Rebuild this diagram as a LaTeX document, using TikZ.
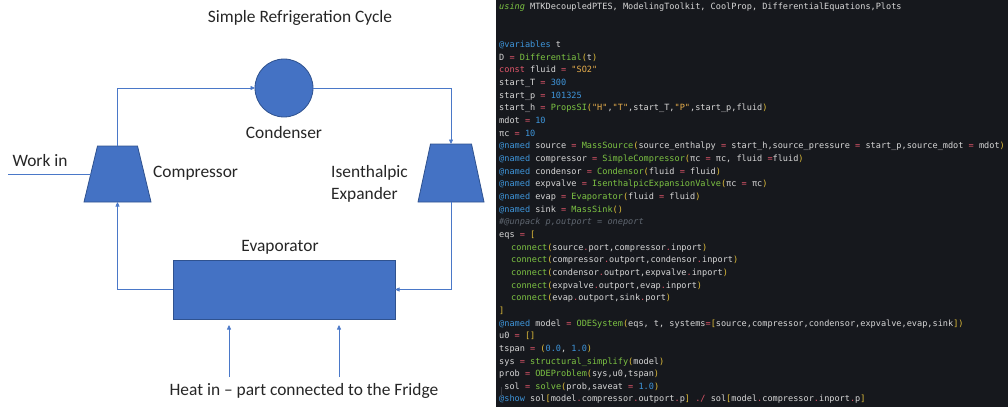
\documentclass[tikz,border=0pt]{standalone}
\usepackage{fontspec}
\setmainfont{Carlito}
\newfontfamily\codefont{DejaVu Sans Mono}
\usetikzlibrary{arrows.meta,calc}
\definecolor{boxfill}{HTML}{4472C4}
\definecolor{boxedge}{HTML}{2F528F}
\definecolor{flowline}{HTML}{4A78C8}
\definecolor{labeltext}{HTML}{262626}
\definecolor{panelbg}{HTML}{16181D}
\definecolor{cdDefC}{HTML}{D7D7D7}
\definecolor{cdMacC}{HTML}{3E95DA}
\definecolor{cdNumC}{HTML}{3E95DA}
\definecolor{cdOpC}{HTML}{E0566A}
\definecolor{cdFunC}{HTML}{7DC443}
\definecolor{cdParC}{HTML}{E2BF3A}
\definecolor{cdStrC}{HTML}{E6AD4C}
\definecolor{cdComC}{HTML}{5F6670}
\definecolor{guideC}{HTML}{3A3D44}
\newcommand\cdMac[1]{\textcolor{cdMacC}{#1}}
\newcommand\cdNum[1]{\textcolor{cdNumC}{#1}}
\newcommand\cdOp[1]{\textcolor{cdOpC}{#1}}
\newcommand\cdFun[1]{\textcolor{cdFunC}{#1}}
\newcommand\cdPar[1]{\textcolor{cdParC}{#1}}
\newcommand\cdStr[1]{\textcolor{cdStrC}{#1}}
\newcommand\cdCom[1]{\textcolor{cdComC}{\itshape #1}}
\newcommand\cdUse[1]{\textcolor{cdFunC}{\itshape #1}}
\begin{document}
\begin{tikzpicture}[x=1pt,y=-1pt,
  lbl/.style={text=labeltext,font=\fontsize{17.4}{22}\selectfont,inner sep=0pt},
  unit/.style={fill=boxfill,draw=boxedge,line width=0.8pt,inner sep=0pt,outer sep=0pt},
  framebox/.style={inner sep=0pt,outer sep=0pt,rectangle},
  flow/.style={draw=flowline,line width=0.6pt},
  flowarr/.style={flow,-{Triangle[length=4.5pt,width=4pt]}},
  codeline/.style={anchor=base west,inner sep=0pt,text=cdDefC,font=\codefont\fontsize{8.57}{12.66}\selectfont}
]
\useasboundingbox (0,0) rectangle (1008,409);
% ---------- left diagram ----------
\node[lbl] (title) at (300,18) {Simple Refrigeration Cycle};
\node[unit,circle,minimum size=58pt] (cond) at (284,88) {};
\node[lbl] (condlbl) at (284,133) {Condenser};
\node[framebox,minimum width=67pt,minimum height=56pt] (comp) at (117.5,174) {};
\node[framebox,minimum width=66pt,minimum height=58pt] (expa) at (451,173) {};
\draw[unit] ($(comp.south west)$) -- ($(comp.north west)+(13.5,0)$) -- ($(comp.north east)+(-13.5,0)$) -- (comp.south east) -- cycle;
\draw[unit] ($(expa.south west)$) -- ($(expa.north west)+(12.5,0)$) -- ($(expa.north east)+(-12.5,0)$) -- (expa.south east) -- cycle;
\node[unit,rectangle,minimum width=222pt,minimum height=59pt] (evap) at (284,289.5) {};
\node[lbl] (worklbl) at (40,161) {Work in};
\node[lbl,anchor=west] (complbl) at (153,173) {Compressor};
\node[lbl,anchor=west,align=left] (expalbl) at (331,184) {Isenthalpic\\Expander};
\node[lbl] (evaplbl) at (280,247) {Evaporator};
\node[lbl] (heatlbl) at (304,391) {Heat in -- part connected to the Fridge};
\coordinate (workend) at (8,174);
\coordinate (heatA) at (229,377);
\coordinate (heatB) at (339,377);
\draw[flowarr] (comp.north) |- (cond.west);
\draw[flowarr] (cond.east) -| (expa.north);
\draw[flowarr] (expa.south) |- (evap.east);
\draw[flowarr] (evap.west) -| (comp.south);
\draw[flow] (workend) -- ($(comp.west)+(6.75,0)$);
\draw[flowarr,shorten >=6pt] (heatA) -- (heatA |- evap.south);
\draw[flowarr,shorten >=6pt] (heatB) -- (heatB |- evap.south);
% ---------- code panel ----------
\node[fill=panelbg,inner sep=0pt,outer sep=0pt,minimum width=512pt,minimum height=407pt,anchor=north west] (panel) at (496,0) {};
\node[codeline] (c0) at (499,9.5) {\cdUse{using} MTKDecoupledPTES, ModelingToolkit, CoolProp, DifferentialEquations,Plots};
\node[codeline] (c3) at (499,47.5) {\cdMac{@variables} t};
\node[codeline] (c4) at (499,60.2) {D \cdOp{=} \cdFun{Differential}\cdPar{(}t\cdPar{)}};
\node[codeline] (c5) at (499,72.8) {\cdOp{const} fluid \cdOp{=} \cdStr{"SO2"}};
\node[codeline] (c6) at (499,85.5) {start\_T \cdOp{=} \cdNum{300}};
\node[codeline] (c7) at (499,98.1) {start\_p \cdOp{=} \cdNum{101325}};
\node[codeline] (c8) at (499,110.8) {start\_h \cdOp{=} \cdFun{PropsSI}\cdPar{(}\cdStr{"H"},\cdStr{"T"},start\_T,\cdStr{"P"},start\_p,fluid\cdPar{)}};
\node[codeline] (c9) at (499,123.4) {mdot \cdOp{=} \cdNum{10}};
\node[codeline] (c10) at (499,136.1) {πc \cdOp{=} \cdNum{10}};
\node[codeline] (c11) at (499,148.8) {\cdMac{@named} source \cdOp{=} \cdFun{MassSource}\cdPar{(}source\_enthalpy \cdOp{=} start\_h,source\_pressure \cdOp{=} start\_p,source\_mdot \cdOp{=} mdot\cdPar{)}};
\node[codeline] (c12) at (499,161.4) {\cdMac{@named} compressor \cdOp{=} \cdFun{SimpleCompressor}\cdPar{(}πc \cdOp{=} πc, fluid \cdOp{=}fluid\cdPar{)}};
\node[codeline] (c13) at (499,174.1) {\cdMac{@named} condensor \cdOp{=} \cdFun{Condensor}\cdPar{(}fluid \cdOp{=} fluid\cdPar{)}};
\node[codeline] (c14) at (499,186.7) {\cdMac{@named} expvalve \cdOp{=} \cdFun{IsenthalpicExpansionValve}\cdPar{(}πc \cdOp{=} πc\cdPar{)}};
\node[codeline] (c15) at (499,199.4) {\cdMac{@named} evap \cdOp{=} \cdFun{Evaporator}\cdPar{(}fluid \cdOp{=} fluid\cdPar{)}};
\node[codeline] (c16) at (499,212.1) {\cdMac{@named} sink \cdOp{=} \cdFun{MassSink}\cdPar{()}};
\node[codeline] (c17) at (499,224.7) {\cdCom{\#@unpack p,outport = oneport}};
\node[codeline] (c18) at (499,237.4) {eqs \cdOp{=} \cdPar{[}};
\node[codeline] (c19) at (511,250.0) {\cdFun{connect}\cdPar{(}source\cdOp{.}port,compressor\cdOp{.}inport\cdPar{)}};
\node[codeline] (c20) at (511,262.7) {\cdFun{connect}\cdPar{(}compressor\cdOp{.}outport,condensor\cdOp{.}inport\cdPar{)}};
\node[codeline] (c21) at (511,275.4) {\cdFun{connect}\cdPar{(}condensor\cdOp{.}outport,expvalve\cdOp{.}inport\cdPar{)}};
\node[codeline] (c22) at (511,288.0) {\cdFun{connect}\cdPar{(}expvalve\cdOp{.}outport,evap\cdOp{.}inport\cdPar{)}};
\node[codeline] (c23) at (511,300.7) {\cdFun{connect}\cdPar{(}evap\cdOp{.}outport,sink\cdOp{.}port\cdPar{)}};
\node[codeline] (c24) at (499,313.3) {\cdPar{]}};
\node[codeline] (c25) at (499,326.0) {\cdMac{@named} model \cdOp{=} \cdFun{ODESystem}\cdPar{(}eqs, t, systems\cdOp{=}\cdPar{[}source,compressor,condensor,expvalve,evap,sink\cdPar{])}};
\node[codeline] (c26) at (499,338.7) {u0 \cdOp{=} \cdPar{[]}};
\node[codeline] (c27) at (499,351.3) {tspan \cdOp{=} \cdPar{(}\cdNum{0.0}, \cdNum{1.0}\cdPar{)}};
\node[codeline] (c28) at (499,364.0) {sys \cdOp{=} \cdFun{structural\_simplify}\cdPar{(}model\cdPar{)}};
\node[codeline] (c29) at (499,376.6) {prob \cdOp{=} \cdFun{ODEProblem}\cdPar{(}sys,u0,tspan\cdPar{)}};
\node[codeline] (c30) at (504.2,389.3) {sol \cdOp{=} \cdFun{solve}\cdPar{(}prob,saveat \cdOp{=} \cdNum{1.0}\cdPar{)}};
\node[codeline] (c31) at (499,401.9) {\cdMac{@show} sol\cdPar{[}model\cdOp{.}compressor\cdOp{.}outport\cdOp{.}p\cdPar{]} \cdOp{./} sol\cdPar{[}model\cdOp{.}compressor\cdOp{.}inport\cdOp{.}p\cdPar{]}};
\draw[guideC,line width=0.6pt] ([xshift=-3pt,yshift=2pt]c30.base west) -- ([xshift=-3pt,yshift=-8pt]c30.base west);
\end{tikzpicture}
\end{document}
